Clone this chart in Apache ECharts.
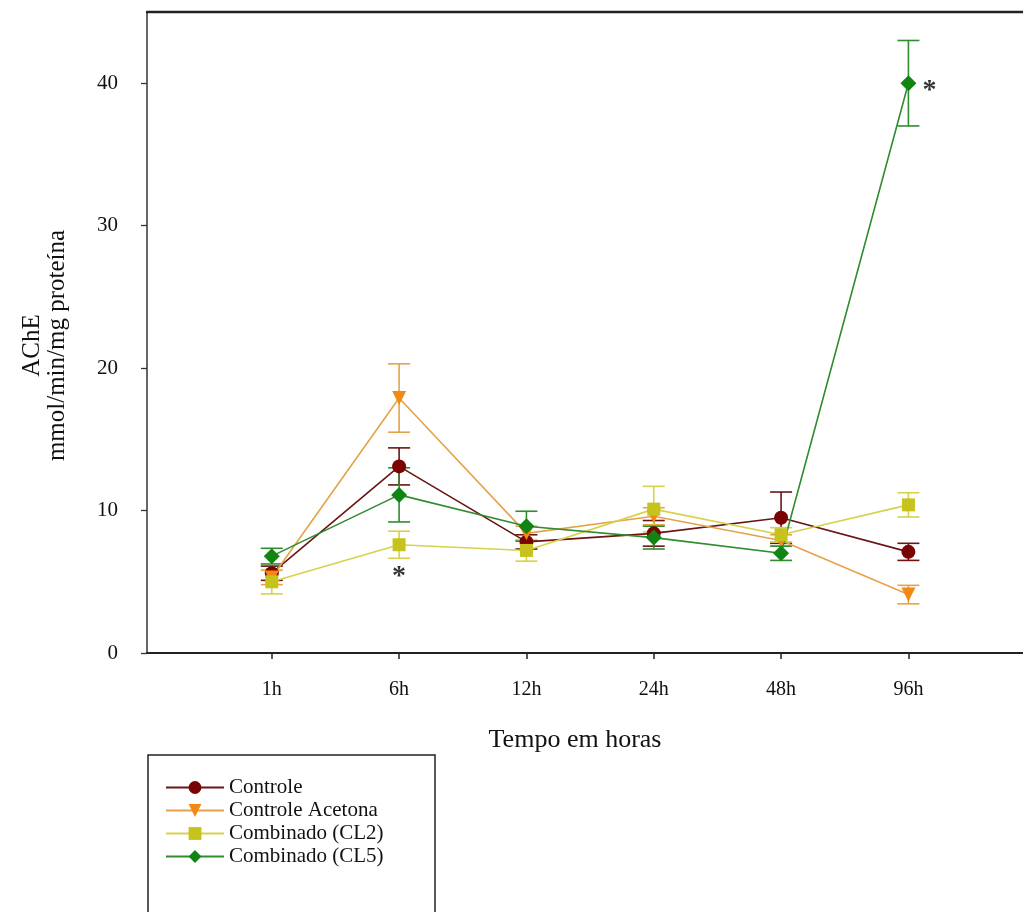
<!DOCTYPE html>
<html>
<head>
<meta charset="utf-8">
<script src="https://cdn.jsdelivr.net/npm/echarts@6/dist/echarts.min.js"></script>
<style>
  html, body { margin: 0; padding: 0; background: #fff; }
  #chart { width: 1023px; height: 912px; }
</style>
</head>
<body>
<div id="chart"></div>
<script>
// categorias do eixo x
const timeLabels = ['1h', '6h', '12h', '24h', '48h', '96h'];
const timeIdx = [1, 2, 3, 4, 5, 6];

// médias e erros
const controle = [5.6, 13.1, 7.8, 8.4, 9.5, 7.1];
const controleErr = [0.5, 1.3, 0.5, 0.9, 1.8, 0.6];
const acetona = [5.3, 17.9, 8.4, 9.6, 7.9, 4.1];
const acetonaErr = [0.5, 2.4, 0.5, 0.6, 0.4, 0.65];
const cl2 = [5.0, 7.6, 7.2, 10.1, 8.3, 10.4];
const cl2Err = [0.85, 0.95, 0.75, 1.6, 0.5, 0.85];
const cl5 = [6.8, 11.1, 8.9, 8.1, 7.0, 40.0];
const cl5Err = [0.55, 1.9, 1.05, 0.8, 0.5, 3.0];

// asteriscos de significância [índice, valor]
const starMarks = [[2, 5.7], [6, 40.0]];

const yTicks = [0, 10, 20, 30, 40];
const FONT = '"Liberation Serif", "DejaVu Serif", serif';

const groups = [
  { name: 'Controle', vals: controle, errs: controleErr, symbol: 'circle', size: 14, mark: '#7a0404', line: '#6a1414' },
  { name: 'Controle Acetona', vals: acetona, errs: acetonaErr, symbol: 'path://M0,0 L10,0 L5,9 Z', size: 14, mark: '#f08a12', line: '#e6a24a' },
  { name: 'Combinado (CL2)', vals: cl2, errs: cl2Err, symbol: 'rect', size: 13, mark: '#c6c31c', line: '#d6d24a' },
  { name: 'Combinado (CL5)', vals: cl5, errs: cl5Err, symbol: 'diamond', size: 16, mark: '#128412', line: '#2f8c2f' }
];

const errorBar = (params, api) => {
  const x = api.value(0), y = api.value(1), e = api.value(2);
  const top = api.coord([x, y + e]);
  const bot = api.coord([x, y - e]);
  const hw = 11;
  const style = { stroke: api.visual('color'), lineWidth: 1.6 };
  return {
    type: 'group',
    children: [
      { type: 'line', shape: { x1: top[0], y1: top[1], x2: bot[0], y2: bot[1] }, style },
      { type: 'line', shape: { x1: top[0] - hw, y1: top[1], x2: top[0] + hw, y2: top[1] }, style },
      { type: 'line', shape: { x1: bot[0] - hw, y1: bot[1], x2: bot[0] + hw, y2: bot[1] }, style }
    ]
  };
};

const series = [];
groups.forEach(g => {
  series.push({
    name: g.name + ' erro',
    type: 'custom',
    renderItem: errorBar,
    itemStyle: { color: g.line },
    data: timeIdx.map((x, i) => [x, g.vals[i], g.errs[i]]),
    z: 2
  });
});
groups.forEach(g => {
  series.push({
    name: g.name,
    type: 'line',
    symbol: g.symbol,
    symbolSize: g.size,
    showAllSymbol: true,
    itemStyle: { color: g.mark },
    lineStyle: { color: g.line, width: 1.6 },
    data: timeIdx.map((x, i) => [x, g.vals[i]]),
    z: 3
  });
});
// o asterisco de 96h fica à direita do ponto
series.push({
  name: 'sig',
  type: 'scatter',
  symbolSize: 0,
  data: starMarks.map((d, i) => ({
    value: d,
    label: { offset: i === 1 ? [21, 8] : [0, 5] }
  })),
  label: {
    show: true,
    formatter: '*',
    fontSize: 28,
    fontWeight: 'bold',
    color: '#000',
    fontFamily: FONT,
    position: 'inside'
  },
  z: 5
});

const chart = echarts.init(document.getElementById('chart'));
chart.setOption({
  animation: false,
  backgroundColor: '#fff',
  grid: { left: 147, right: 0, top: 12, bottom: 259, outerBoundsMode: 'none' },
  xAxis: [
    {
      type: 'value',
      min: 0.02,
      max: 6.9,
      position: 'bottom',
      splitLine: { show: false },
      axisLine: { onZero: false, lineStyle: { color: '#222', width: 2.2 } },
      axisTick: { show: true, length: 6, customValues: timeIdx, lineStyle: { color: '#222', width: 1.5 } },
      axisLabel: {
        customValues: timeIdx,
        formatter: v => timeLabels[Math.round(v) - 1] || '',
        margin: 27,
        fontSize: 20,
        fontFamily: FONT,
        color: '#111'
      }
    },
    {
      type: 'value',
      min: 0.02,
      max: 6.9,
      position: 'top',
      splitLine: { show: false },
      axisLine: { onZero: false, lineStyle: { color: '#222', width: 2.4 } },
      axisTick: { show: false },
      axisLabel: { show: false }
    }
  ],
  yAxis: {
    type: 'value',
    min: 0,
    max: 45,
    name: 'AChE\nmmol/min/mg proteína',
    nameLocation: 'middle',
    nameGap: 77,
    nameTextStyle: {
      fontSize: 25,
      lineHeight: 25,
      fontFamily: FONT,
      color: '#111',
      padding: [0, 0, 0, -26]
    },
    splitLine: { show: false },
    axisLine: { show: true, lineStyle: { color: '#333', width: 1.5 } },
    axisTick: { show: true, length: 6, customValues: yTicks, lineStyle: { color: '#333', width: 1.3 } },
    axisLabel: {
      customValues: yTicks,
      margin: 29,
      fontSize: 21,
      fontFamily: FONT,
      color: '#111'
    }
  },
  legend: {
    data: groups.map(g => g.name),
    orient: 'vertical',
    left: 160,
    top: 771,
    itemWidth: 58,
    itemHeight: 16,
    itemGap: 0,
    textStyle: { fontSize: 21, lineHeight: 23, fontFamily: FONT, color: '#111' },
    selectedMode: false
  },
  graphic: [
    {
      type: 'rect',
      shape: { x: 148, y: 755, width: 287, height: 200 },
      style: { fill: 'none', stroke: '#222', lineWidth: 1.5 },
      silent: true
    },
    {
      type: 'text',
      x: 575,
      y: 740,
      style: { text: 'Tempo em horas', font: '26px ' + FONT, fill: '#111', align: 'center', verticalAlign: 'middle' }
    }
  ],
  series
});
</script>
</body>
</html>
